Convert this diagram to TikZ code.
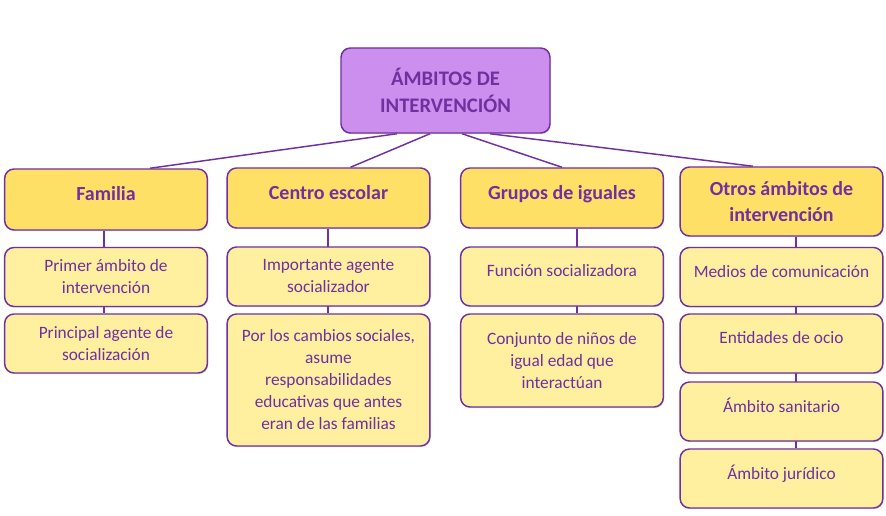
\documentclass[tikz,border=0pt]{standalone}
\usepackage{fontspec}
\setmainfont{Carlito}
\usetikzlibrary{positioning}
\usetikzlibrary{backgrounds}
\usetikzlibrary{shadows}
\definecolor{lila}{HTML}{7030A0}
\definecolor{malva}{HTML}{CC8FEE}
\definecolor{oro}{HTML}{FFE066}
\definecolor{crema}{HTML}{FFF0A0}
\tikzset{caja/.style={draw=lila, line width=1.1pt, rounded corners=7pt, text=lila,
    align=center, inner sep=2pt,
    drop shadow={opacity=0.3, shadow xshift=0.6pt, shadow yshift=-0.9pt}}}
\tikzset{raiz/.style={caja, fill=malva, font=\bfseries\fontsize{15.5}{20}\selectfont,
    minimum width=156.75pt, minimum height=63.75pt}}
\tikzset{ambito/.style={caja, fill=oro, font=\bfseries\fontsize{15}{20}\selectfont,
    minimum width=152pt, minimum height=45pt}}
\tikzset{idea/.style={caja, fill=crema, font=\fontsize{13}{16.5}\selectfont,
    minimum width=152pt, minimum height=44.25pt}}
\tikzset{linea/.style={draw=lila, line width=1.1pt}}
\tikzset{arriba/.style={text depth=9pt}}

\begin{document}
\begin{tikzpicture}[x=0.75pt, y=-0.75pt]
        \useasboundingbox (0,0) rectangle (886,516);

        \node[raiz] (amb) at (445.5,90.5) {ÁMBITOS DE\\INTERVENCIÓN};

        \node[ambito, arriba, minimum height=45.75pt] (fam) at (106,199.5) {Familia};
        \node[ambito, arriba] (esc) at (328.5,198) {Centro escolar};
        \node[ambito, arriba] (igu) at (562,198) {Grupos de iguales};
        \node[ambito, minimum height=51.75pt] (otr) at (781.5,201.5)
            {Otros ámbitos de\\intervención};

        \node[idea] (fam1) at (106,277) {Primer ámbito de\\intervención};
        \node[idea] (fam2) at (106,343.5) {Principal agente de\\socialización};
        \node[idea] (esc1) at (328.5,276.5) {Importante agente\\socializador};
        \node[idea, minimum height=99pt] (esc2) at (328.5,380)
            {Por los cambios sociales,\\asume\\responsabilidades\\
            educativas que antes\\eran de las familias};
        \node[idea, arriba] (igu1) at (562,276.5) {Función socializadora};
        \node[idea, minimum height=69.75pt] (igu2) at (562,360.5)
            {Conjunto de niños de\\igual edad que\\interactúan};
        \node[idea, arriba] (otr1) at (781.5,277) {Medios de comunicación};
        \node[idea, arriba] (otr2) at (781.5,343.5) {Entidades de ocio};
        \node[idea, arriba] (otr3) at (781.5,411.5) {Ámbito sanitario};
        \node[idea, arriba] (otr4) at (781.5,478.5) {Ámbito jurídico};

        \begin{scope}[on background layer]
        \draw[linea] ([xshift=-36.4pt]amb.south) -- ([xshift=33pt]fam.north);
        \draw[linea] ([xshift=-11.6pt]amb.south) -- ([xshift=16.5pt]esc.north);
        \draw[linea] ([xshift=12.4pt]amb.south) -- (igu.north);
        \draw[linea] ([xshift=33.4pt]amb.south) -- ([xshift=-21.4pt]otr.north);
        \draw[linea] ([xshift=-1.5pt]fam.south) -- ([xshift=-1.5pt]fam2.north);
        \draw[linea] ([xshift=-0.3pt]esc.south) -- ([xshift=-0.3pt]esc2.north);
        \draw[linea] ([xshift=11.25pt]igu.south) -- ([xshift=11.25pt]igu2.north);
        \draw[linea] ([xshift=10.9pt]otr.south) -- ([xshift=10.9pt]otr4.north);
        \end{scope}
\end{tikzpicture}
\end{document}
